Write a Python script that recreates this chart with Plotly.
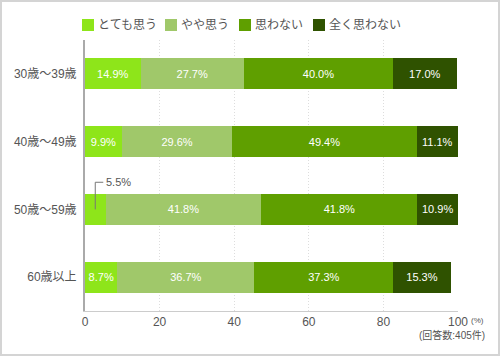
import plotly.graph_objects as go

categories = ["30歳〜39歳", "40歳〜49歳", "50歳〜59歳", "60歳以上"]
series_names = ["とても思う", "やや思う", "思わない", "全く思わない"]
values = {
    "とても思う": [14.9, 9.9, 5.5, 8.7],
    "やや思う": [27.7, 29.6, 41.8, 36.7],
    "思わない": [40.0, 49.4, 41.8, 37.3],
    "全く思わない": [17.0, 11.1, 10.9, 15.3],
}
colors = ["#8ee51a", "#a0c86a", "#5f9f00", "#2f5200"]
x_ticks = [0, 20, 40, 60, 80, 100]
note_unit = "(%)"
note_n = "(回答数:405件)"

W, H = 500, 356
L, R, T, B = 85, 42, 40, 45
PW, PH = W - L - R, H - T - B

def px(x):
    return (x - L) / PW

def py(y):
    return (H - B - y) / PH

FONT = "Liberation Sans, Noto Sans CJK JP, sans-serif"

fig = go.Figure()
for name, col in zip(series_names, colors):
    vals = values[name]
    texts = [f"{v:.1f}%" if v >= 7 else "" for v in vals]
    fig.add_trace(go.Bar(
        y=categories, x=vals, name=name, orientation="h",
        marker=dict(color=col, line=dict(width=0)),
        text=texts, textposition="inside", insidetextanchor="middle",
        textfont=dict(color="white", size=11, family=FONT),
        hoverinfo="skip", showlegend=False,
    ))

# custom legend (squares + labels)
legend_x = [82, 165, 239, 313]
for name, col, lx in zip(series_names, colors, legend_x):
    fig.add_shape(type="rect", xref="paper", yref="paper",
                  x0=px(lx), x1=px(lx + 12), y0=py(31), y1=py(19),
                  fillcolor=col, line=dict(width=0))
    fig.add_annotation(x=px(lx + 14), y=py(25), xref="paper", yref="paper", text=name,
                       showarrow=False, xanchor="left", yanchor="middle",
                       font=dict(color="#555", size=12, family=FONT))

# outside label for small segment (5.5%)
small_val = values["とても思う"][2]
cx = small_val / 2
fig.add_shape(type="line", xref="x", yref="y", x0=cx, x1=cx, y0=2, y1=1.6,
              line=dict(color="#777", width=1))
fig.add_shape(type="line", xref="x", yref="y", x0=cx, x1=4.9, y0=1.6, y1=1.6,
              line=dict(color="#777", width=1))
fig.add_annotation(x=5.1, y=1.6, xref="x", yref="y", text=f"{small_val:.1f}%",
                   showarrow=False, xanchor="left", yanchor="middle",
                   font=dict(color="#555", size=11, family=FONT))

fig.add_annotation(x=px(469), y=py(320), xref="paper", yref="paper", text=note_unit,
                   showarrow=False, xanchor="left", yanchor="middle",
                   font=dict(color="#555", size=8, family=FONT))
fig.add_annotation(x=px(487), y=py(335), xref="paper", yref="paper", text=note_n,
                   showarrow=False, xanchor="right", yanchor="middle",
                   font=dict(color="#555", size=10, family=FONT))

# outer border
fig.add_shape(type="rect", xref="paper", yref="paper",
              x0=px(1), x1=px(499), y0=py(355), y1=py(1),
              line=dict(color="#d4d4d4", width=2), layer="below")

fig.update_layout(
    width=W, height=H, barmode="stack", bargap=0.54,
    margin=dict(l=L, r=R, t=T, b=B, autoexpand=False),
    paper_bgcolor="white", plot_bgcolor="white",
    font=dict(family=FONT, color="#555", size=12),
    showlegend=False,
    xaxis=dict(range=[0, 100], tickvals=x_ticks, showgrid=True, gridcolor="#dddddd",
               griddash="1px,2px", gridwidth=1, showline=True, linecolor="#cccccc", linewidth=1,
               zeroline=False, ticks="", tickfont=dict(size=12, color="#555"), fixedrange=True,
               automargin=False),
    yaxis=dict(autorange="reversed", showline=True, linecolor="#aaaaaa", linewidth=2,
               ticks="", ticklen=0, tickfont=dict(size=12, color="#555"), fixedrange=True,
               ticklabelstandoff=4, automargin=False),
)

fig.write_html("out.html", config={"displayModeBar": False},
               post_script="document.body.style.margin='0';")
